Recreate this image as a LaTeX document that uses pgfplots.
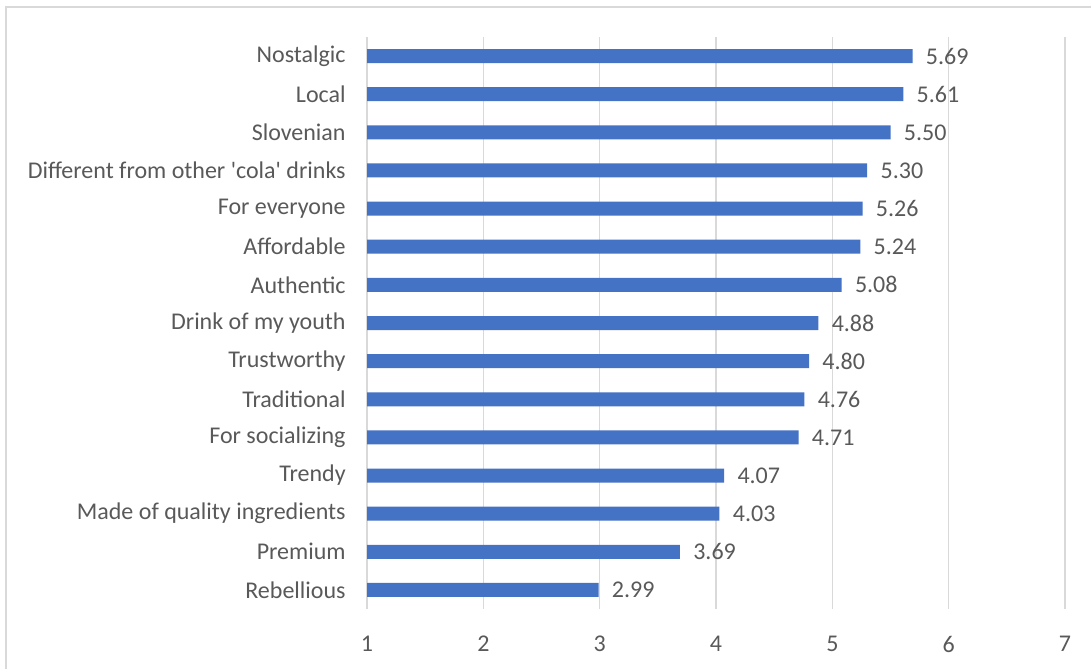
\documentclass[border=0pt]{standalone}
\usepackage{pgfplots}
\pgfplotsset{compat=1.18}
\usepackage{fontspec}
\setmainfont{Carlito}[Ligatures=TeXOff]
\definecolor{barblue}{HTML}{4472C4}
\definecolor{gridgray}{HTML}{D9D9D9}
\definecolor{textgray}{HTML}{595959}
\begin{document}
\begin{tikzpicture}[x=0.75pt,y=0.75pt]
\path[use as bounding box] (0,0) rectangle (1091,669);
\draw[gridgray, line width=1.5pt] (6,0) -- (6,662) -- (1091,662);
\begin{axis}[
  at={(275.25pt,45pt)}, anchor=south west,
  scale only axis, width=523.5pt, height=429pt,
  xmin=1, xmax=7, ymin=-0.5, ymax=14.5,
  xtick={1,2,3,4,5,6,7}, ytick={0,1,2,3,4,5,6,7,8,9,10,11,12,13,14},
  yticklabels={Rebellious, Premium, Made of quality ingredients, Trendy, For socializing, Traditional, Trustworthy, Drink of my youth, Authentic, Affordable, For everyone, Different from other 'cola' drinks, Slovenian, Local, Nostalgic},
  xbar, bar width=10.5pt,
  axis line style={draw=none},
  major tick length=0pt,
  xmajorgrids, grid style={gridgray, line width=1pt},
  /pgf/number format/assume math mode=true,
  tick label style={font=\fontsize{18}{21}\selectfont, text=textgray},
  yticklabel style={xshift=-12.5pt},
  xticklabel style={yshift=-17pt},
  nodes near coords,
  nodes near coords style={font=\fontsize{18}{21}\selectfont, text=textgray, xshift=6.5pt,
    /pgf/number format/.cd, fixed, fixed zerofill, precision=2, assume math mode=true},
]
\addplot[fill=barblue, draw=none] coordinates {
(2.99,0) (3.69,1) (4.03,2) (4.07,3) (4.71,4) (4.76,5) (4.80,6) (4.88,7)
(5.08,8) (5.24,9) (5.26,10) (5.30,11) (5.50,12) (5.61,13) (5.69,14)
};
\end{axis}
\end{tikzpicture}
\end{document}
